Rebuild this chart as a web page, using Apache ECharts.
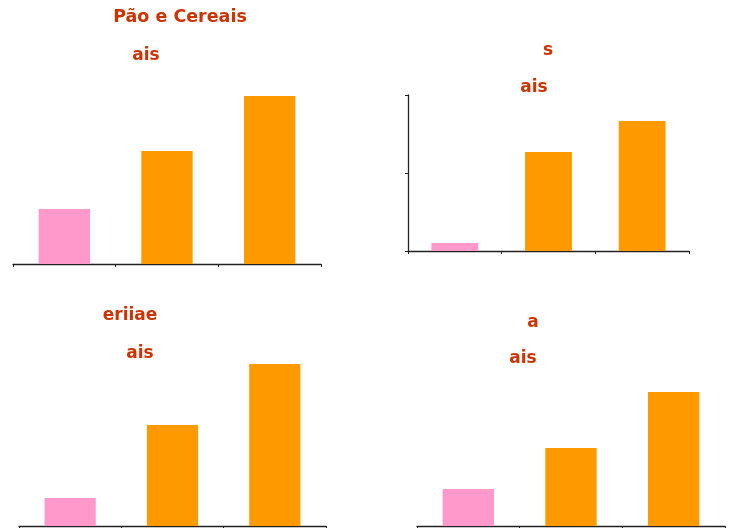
<!DOCTYPE html>
<html>
<head>
<meta charset="utf-8">
<script src="https://cdn.jsdelivr.net/npm/echarts@6/dist/echarts.min.js"></script>
<style>
  html, body { margin: 0; padding: 0; background: #fff; }
  #chart { width: 733px; height: 528px; }
</style>
</head>
<body>
<div id="chart"></div>
<script>
// Three groups per panel; the first bar is highlighted in pink.
const categories = ['1', '2', '3'];

const valuesPao = [32.7, 67.3, 100];
const valuesS = [5.1, 63.5, 83.3];
const valuesEriiae = [17.3, 62.3, 100];
const valuesA = [27.6, 58.2, 100];

const titlesPao = ['Pão e Cereais', 'ais'];
const titlesS = ['s', 'ais'];
const titlesEriiae = ['eriiae', 'ais'];
const titlesA = ['a', 'ais'];

const yTicksS = [0, 50, 100];

const PINK = '#ff99cc';
const ORANGE = '#ff9900';
const TITLE_COLOR = '#cc3300';
const AXIS_COLOR = '#222';

const panels = [
  { values: valuesPao, titles: titlesPao, grid: { left: 13, right: 412, top: 96, height: 168 },
    yLine: false, titlePos: [[180, 17], [146, 56]] },
  { values: valuesS, titles: titlesS, grid: { left: 408, right: 44, top: 95, height: 156 },
    yLine: true, titlePos: [[548, 51], [534, 88]] },
  { values: valuesEriiae, titles: titlesEriiae, grid: { left: 19, right: 407, top: 364, height: 162 },
    yLine: false, titlePos: [[130, 316], [140, 354]] },
  { values: valuesA, titles: titlesA, grid: { left: 417, right: 8, top: 392, height: 134 },
    yLine: false, titlePos: [[533, 323], [523, 359]] }
];

const chart = echarts.init(document.getElementById('chart'), null, { renderer: 'canvas' });

const option = {
  backgroundColor: '#fff',
  animation: false,
  grid: panels.map(p => Object.assign({ containLabel: false }, p.grid)),
  xAxis: panels.map((p, i) => ({
    type: 'category',
    gridIndex: i,
    data: categories,
    axisLine: { show: true, lineStyle: { color: AXIS_COLOR, width: 1.3 } },
    axisTick: { show: true, length: 3, alignWithLabel: false, lineStyle: { color: AXIS_COLOR } },
    axisLabel: { show: false },
    splitLine: { show: false }
  })),
  yAxis: panels.map((p, i) => ({
    type: 'value',
    gridIndex: i,
    min: yTicksS[0],
    max: yTicksS[yTicksS.length - 1],
    interval: yTicksS[1] - yTicksS[0],
    axisLine: { show: p.yLine, lineStyle: { color: AXIS_COLOR, width: 1.3 } },
    axisTick: { show: p.yLine, length: 3, lineStyle: { color: AXIS_COLOR } },
    axisLabel: { show: false },
    splitLine: { show: false }
  })),
  series: panels.map((p, i) => ({
    type: 'bar',
    xAxisIndex: i,
    yAxisIndex: i,
    barWidth: '50%',
    data: p.values.map((v, j) => ({ value: v, itemStyle: { color: j === 0 ? PINK : ORANGE } }))
  })),
  graphic: panels.flatMap(p => p.titles.map((t, k) => ({
    type: 'text',
    x: p.titlePos[k][0],
    y: p.titlePos[k][1],
    style: {
      text: t,
      fill: TITLE_COLOR,
      font: (t.length > 6 ? 'bold 17.5px' : 'bold 17px') + ' "DejaVu Sans", sans-serif',
      textAlign: 'center',
      textVerticalAlign: 'middle'
    }
  })))
};

chart.setOption(option);
</script>
</body>
</html>
